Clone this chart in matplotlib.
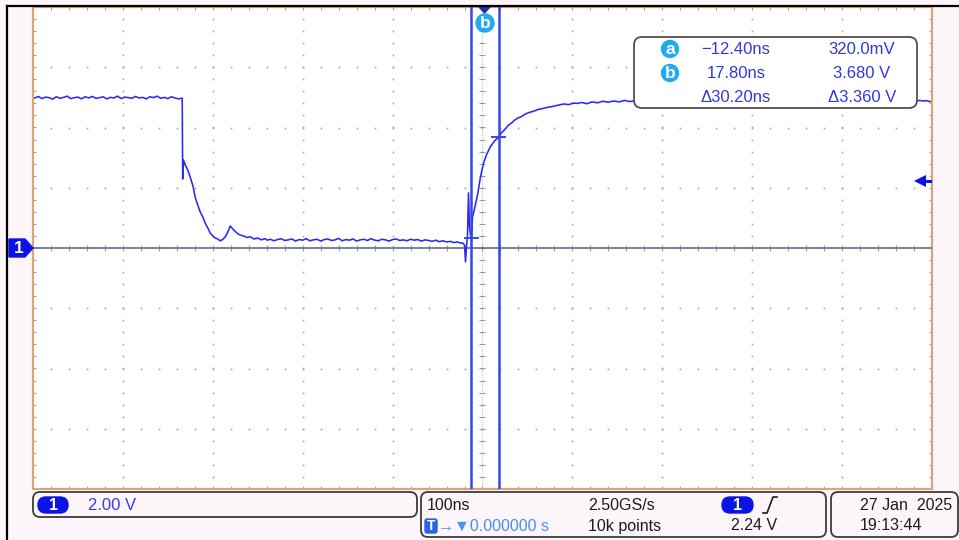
import matplotlib
import matplotlib.pyplot as plt
from matplotlib.patches import FancyBboxPatch, Polygon, Circle
import numpy as np

matplotlib.rc('font', family=['Liberation Sans', 'DejaVu Sans'], size=11.5)

W, H = 959, 540

# scope settings
T_DIV = 100.0      # ns / div
V_DIV = 2.00       # V / div
N_HDIV, N_VDIV = 10, 8
SAMPLE_RATE = '2.50GS/s'
RECORD = '10k points'
TRIG_LEVEL = 2.24
TRIG_POS = 0.0
STAMP_DATE = '27 Jan  2025'
STAMP_TIME = '19:13:44'

# cursor readout (a, b)
cursor_t = [-12.40, 17.80]     # ns
cursor_v = [0.3200, 3.680]     # V

# channel 1 record (ns, V)
trace_t = [
    -498, -494, -490, -486, -482, -478, -474, -470, -466, -462, -458, -454,
    -450, -446, -442, -438, -434, -430, -426, -422, -418, -414, -410, -406,
    -402, -398, -394, -390, -386, -382, -378, -374, -370, -366, -362, -358,
    -354, -350, -346, -342, -338, -335,
    -334.0, -333.5, -332.5, -330.7, -328.0, -325.2, -322.0, -319.6, -317.0,
    -314.0, -311.0, -308.5, -305.5, -302.9, -300.0, -297.3, -294.5, -291.8,
    -289.0, -286.2, -283.4, -280.6, -278.0, -275.1, -272.0, -269.5, -266.0,
    -262.0, -258.4, -254.0, -250.0, -246.0, -242.0, -239.4,
    -236, -232, -228, -224, -220, -216, -212, -208, -204, -200, -196, -192,
    -188, -184, -180, -176, -172, -168, -164, -160, -156, -152, -148, -144,
    -140, -136, -132, -128, -124, -120, -116, -112, -108, -104, -100, -96,
    -92, -88, -84, -80, -76, -72, -68, -64, -60, -56, -52, -48, -44, -40,
    -36, -32, -28, -24,
    -22.3, -20.0, -18.9, -17.8, -16.7, -15.6, -14.5, -13.4, -12.2, -11.1,
    -8.9, -5.6, -2.2, 1.1, 4.5, 8.9, 13.4, 17.8, 21.5, 25.6, 29.0, 32.3,
    36.0, 39.0, 43.0, 47.9, 52.0, 56.8, 62.0, 67.0, 72.4, 78.0, 84.0, 90.2,
    96.0, 101.0, 105.8,
    110, 116, 122, 128, 134, 140, 146, 152, 158, 164, 170, 176, 182, 188,
    194, 200, 210, 220, 230, 240, 250, 260, 270, 280, 290, 300, 310, 320,
    330, 340, 350, 360, 370, 380, 390, 400, 410, 420, 430, 440, 450, 460,
    470, 478, 482, 486, 490, 494, 498,
]
trace_v = [
    4.98, 5.03, 4.96, 5.01, 4.99, 4.94, 5.02, 4.97, 5.00, 5.04, 4.96, 4.99,
    5.01, 4.95, 5.02, 4.98, 5.03, 4.97, 4.99, 5.02, 4.95, 5.00, 4.98, 5.04,
    4.96, 5.01, 4.99, 4.97, 5.03, 4.98, 5.00, 4.95, 5.02, 4.99, 5.04, 4.97,
    5.00, 4.96, 5.02, 4.98, 4.95, 4.97,
    4.97, 2.29, 2.92, 2.76, 2.60, 2.36, 2.05, 1.69, 1.45,
    1.20, 1.02, 0.83, 0.66, 0.50, 0.40, 0.33, 0.30, 0.24,
    0.28, 0.37, 0.52, 0.73, 0.64, 0.55, 0.47, 0.43, 0.40,
    0.35, 0.37, 0.30, 0.33, 0.27, 0.31, 0.26,
    0.29, 0.24, 0.28, 0.31, 0.25, 0.27, 0.30, 0.23, 0.28, 0.26, 0.31, 0.24,
    0.27, 0.29, 0.23, 0.28, 0.30, 0.25, 0.27, 0.32, 0.24, 0.28, 0.26, 0.30,
    0.23, 0.27, 0.29, 0.25, 0.31, 0.26, 0.24, 0.29, 0.27, 0.23, 0.28, 0.30,
    0.25, 0.27, 0.24, 0.29, 0.26, 0.28, 0.23, 0.27, 0.25, 0.22, 0.26, 0.21,
    0.24, 0.20, 0.22, 0.18, 0.20, 0.16,
    0.17, 0.10, -0.46, 0.05, 0.40, 1.83, 0.70, 0.45, 0.33, 1.03,
    1.30, 1.75, 2.37, 2.81, 3.10, 3.37, 3.55, 3.68, 3.84, 3.96, 4.08, 4.15,
    4.25, 4.31, 4.36, 4.45, 4.50, 4.54, 4.60, 4.63, 4.67, 4.70, 4.74, 4.78,
    4.76, 4.81, 4.80,
    4.83, 4.79, 4.85, 4.82, 4.87, 4.84, 4.88, 4.85, 4.90, 4.86, 4.89, 4.92,
    4.87, 4.90, 4.88, 4.93, 4.89, 4.91, 4.88, 4.92, 4.90, 4.87, 4.91, 4.89,
    4.92, 4.88, 4.90, 4.91, 4.87, 4.90, 4.92, 4.88, 4.91, 4.89, 4.90, 4.87,
    4.91, 4.89, 4.92, 4.88, 4.90, 4.86, 4.89, 4.91, 4.87, 4.90, 4.88, 4.89,
    4.86,
]

BLUE = '#2a2af0'
CURSOR_BLUE = '#3447e4'
BADGE_BLUE = '#0b14e6'
CYAN = '#20aaf0'
TXT_BLUE = '#3038d8'
BORDER = '#d9a57a'
DOT = '#a8a8a8'


def fmt_minus(s):
    return s.replace('-', '\u2212')


fig = plt.figure(figsize=(W / 100, H / 100), dpi=100, facecolor='#fcf6fb')

# graticule area
left, right, top, bottom = 33, 932, 7, 489
ax = fig.add_axes([left / W, 1 - bottom / H, (right - left) / W, (bottom - top) / H])
t_half = T_DIV * N_HDIV / 2
v_half = V_DIV * N_VDIV / 2
ax.set_xlim(-t_half, t_half)
ax.set_ylim(-v_half, v_half)
ax.set_xticks([])
ax.set_yticks([])
ax.set_facecolor('white')
for s in ax.spines.values():
    s.set_color(BORDER)
    s.set_linewidth(1.6)

minor_t = np.arange(-t_half, t_half + 1e-6, T_DIV / 5)
minor_v = np.arange(-v_half, v_half + 1e-6, V_DIV / 5)
major_t = [k * T_DIV for k in range(-N_HDIV // 2 + 1, N_HDIV // 2) if k != 0]
major_v = [k * V_DIV for k in range(-N_VDIV // 2 + 1, N_VDIV // 2) if k != 0]

tt, vv = np.meshgrid(major_t, minor_v)
ax.plot(tt.ravel(), vv.ravel(), ls='none', marker='s', ms=1.2, mew=0, color=DOT)
tt, vv = np.meshgrid(minor_t, major_v)
ax.plot(tt.ravel(), vv.ravel(), ls='none', marker='s', ms=1.2, mew=0, color=DOT)

# centre axes with minor ticks
ax.axvline(0, color='#c4c4c4', lw=0.8, ls=(0, (1, 1)))
ax.plot(minor_t, np.zeros_like(minor_t), ls='none', marker='|', ms=5, mew=0.8, color='#9a9a9a')
ax.plot(np.zeros_like(minor_v), minor_v, ls='none', marker='_', ms=5, mew=0.8, color='#9a9a9a')
ax.axhline(0, color='#6c7698', lw=1.3, zorder=3)

# edge ticks
for edge in (-t_half, t_half):
    ax.plot(np.full_like(minor_v, edge), minor_v, ls='none', marker='_', ms=4,
            mew=0.8, color='#a0a0a0')
for edge in (-v_half, v_half):
    ax.plot(minor_t, np.full_like(minor_t, edge), ls='none', marker='|', ms=4,
            mew=0.8, color='#a0a0a0')

# waveform
ax.plot(trace_t, trace_v, color=BLUE, lw=1.15, zorder=5)

# cursors
for t, v in zip(cursor_t, cursor_v):
    ax.axvline(t, color=CURSOR_BLUE, lw=1.8, zorder=6)
    ax.plot([t - 7.5, t + 7.5], [v, v], color=CURSOR_BLUE, lw=1.4, zorder=6)

# trigger level arrow
ax.plot([t_half - 14, t_half - 2], [TRIG_LEVEL, TRIG_LEVEL], color=BADGE_BLUE, lw=2.2, zorder=7)
ax.plot([t_half - 13], [TRIG_LEVEL], marker='<', ms=9, mew=0, color=BADGE_BLUE, zorder=7)

# pixel overlay for the frame, badges and readouts
ov = fig.add_axes([0, 0, 1, 1], zorder=10)
ov.set_xlim(0, W)
ov.set_ylim(H, 0)
ov.axis('off')
ov.patch.set_alpha(0)

ov.plot([7, W], [5.5, 5.5], color='black', lw=1.6)
ov.plot([7, 7], [5.5, H], color='black', lw=1.6)

# channel 1 ground marker
ov.add_patch(Polygon([(9, 239), (25, 239), (33, 248), (25, 257), (9, 257)],
                     closed=True, color=BADGE_BLUE))
ov.text(19, 248.5, '1', color='white', fontsize=12.5, fontweight='bold',
        ha='center', va='center')

# trigger position / cursor badge on top
ov.add_patch(Polygon([(479, 7), (490, 7), (484.5, 13)], closed=True, color='#1d2fb8'))
ov.add_patch(Circle((485, 23), 9, color=CYAN))
ov.text(485, 23.5, 'b', color='white', fontsize=12.5, fontweight='bold',
        ha='center', va='center')

# cursor readout box
ov.add_patch(FancyBboxPatch((634, 37), 283, 71, boxstyle='round,pad=0,rounding_size=8',
                            fc='white', ec='#505050', lw=1.3))
rows_y = [49, 73, 97]
dt = cursor_t[1] - cursor_t[0]
dv = cursor_v[1] - cursor_v[0]
col_t = [fmt_minus(f'{cursor_t[0]:.2f}ns'), f'{cursor_t[1]:.2f}ns', f'\u0394{dt:.2f}ns']
col_v = [f'{cursor_v[0] * 1000:.1f}mV', f'{cursor_v[1]:.3f} V', f'\u0394{dv:.3f} V']
for i, lab in enumerate(['a', 'b']):
    ov.add_patch(Circle((670, rows_y[i]), 8.5, color=CYAN))
    ov.text(670, rows_y[i] + 0.5, lab, color='white', fontsize=12.5, fontweight='bold',
            ha='center', va='center')
for y, a, b in zip(rows_y, col_t, col_v):
    ov.text(736, y, a, color=TXT_BLUE, fontsize=12, ha='center', va='center')
    ov.text(862, y, b, color=TXT_BLUE, fontsize=12, ha='center', va='center')

# bottom status boxes
box_kw = dict(boxstyle='round,pad=0,rounding_size=7', fc='none', ec='#3c3c3c', lw=1.3)
ov.add_patch(FancyBboxPatch((33, 492), 384, 25, **box_kw))
ov.add_patch(FancyBboxPatch((421, 492), 405, 45, **box_kw))
ov.add_patch(FancyBboxPatch((831, 492), 127, 45, **box_kw))

row1, row2 = 505, 526
ov.add_patch(FancyBboxPatch((38, 497), 30, 16, boxstyle='round,pad=0,rounding_size=8',
                            color=BADGE_BLUE))
ov.text(53, 505.5, '1', color='white', fontsize=11.5, fontweight='bold', ha='center', va='center')
ov.text(88, row1, f'{V_DIV:.2f} V', color='#3a3ae6', fontsize=12, va='center')

dark = '#1c1c1c'
ov.text(427, row1, f'{T_DIV:.0f}ns', color=dark, fontsize=11.5, va='center')
ov.text(588, row1, SAMPLE_RATE, color=dark, fontsize=11.5, va='center')
ov.add_patch(FancyBboxPatch((722, 497), 31, 16, boxstyle='round,pad=0,rounding_size=8',
                            color=BADGE_BLUE))
ov.text(737.5, 505.5, '1', color='white', fontsize=11.5, fontweight='bold', ha='center', va='center')
ov.plot([763, 767, 773, 777], [513, 513, 497, 497], color=dark, lw=1.2)

ov.add_patch(FancyBboxPatch((425, 519), 12, 14, boxstyle='round,pad=0,rounding_size=2',
                            color='#2b62e0'))
ov.text(431, 526.5, 'T', color='white', fontsize=10, fontweight='bold', ha='center', va='center')
ov.text(438, row2, f'\u2192\u25bc{TRIG_POS:.6f} s', color='#4a8ef2', fontsize=11.5, va='center')
ov.text(588, row2, RECORD, color=dark, fontsize=11.5, va='center')
ov.text(731, row2, f'{TRIG_LEVEL:.2f} V', color=dark, fontsize=11.5, va='center')

ov.text(860, row1, STAMP_DATE, color=dark, fontsize=11.5, va='center')
ov.text(860, row2, STAMP_TIME, color=dark, fontsize=11.5, va='center')

fig.savefig('out.png', dpi=100, facecolor=fig.get_facecolor())
